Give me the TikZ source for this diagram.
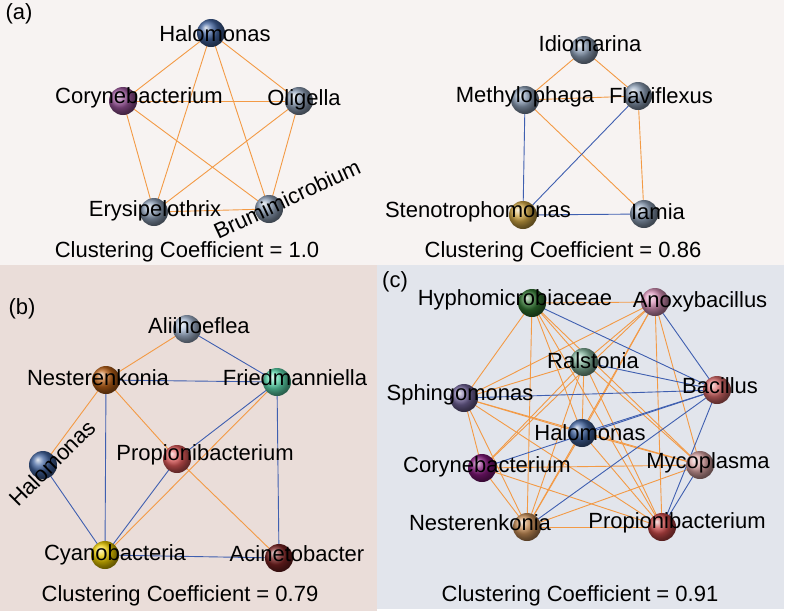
\documentclass[tikz,border=0pt]{standalone}
\usepackage{fontspec}
\setmainfont{Liberation Sans}
\definecolor{bgtop}{HTML}{F7F3F2}
\definecolor{bgb}{HTML}{EADDD9}
\definecolor{bgc}{HTML}{E2E5EC}
\definecolor{eor}{HTML}{F39A45}
\definecolor{ebl}{HTML}{3F5FB0}
\definecolor{cgrey}{HTML}{8EA0B8}
\definecolor{cblue}{HTML}{42649F}
\definecolor{cpurple}{HTML}{9A549A}
\definecolor{cgold}{HTML}{D2A845}
\definecolor{csteel}{HTML}{A8BAD4}
\definecolor{cbrown}{HTML}{BC6218}
\definecolor{caqua}{HTML}{5EDCB0}
\definecolor{cred}{HTML}{E05A5A}
\definecolor{cyellow}{HTML}{ECCC00}
\definecolor{cdred}{HTML}{7A2222}
\definecolor{cgreen}{HTML}{307430}
\definecolor{cpink}{HTML}{DA94BA}
\definecolor{csage}{HTML}{82B49C}
\definecolor{csalmon}{HTML}{DA6A6A}
\definecolor{cviolet}{HTML}{72649A}
\definecolor{cmag}{HTML}{82167A}
\definecolor{crose}{HTML}{DAA4A4}
\definecolor{ctan}{HTML}{CC925A}
\definecolor{cpr}{HTML}{CC4A4A}
\tikzset{
  ball/.style={circle, minimum size=28pt, inner sep=0pt, ball color=#1},
  lbl/.style={font=\fontsize{22}{22}\selectfont, inner sep=0pt, text=black},
  cc/.style={font=\fontsize{22}{22}\selectfont, inner sep=0pt, text=black},
  oe/.style={draw=eor, line width=0.9pt},
  be/.style={draw=ebl, line width=0.9pt},
}
\begin{document}
\begin{tikzpicture}[x=1pt, y=-1pt]
\useasboundingbox (0,0) rectangle (787,611);
\fill[white] (0,0) rectangle (787,611);
\fill[bgtop] (0,0) rectangle (784,265);
\fill[bgb] (0,265) rectangle (377,611);
\fill[bgc] (377,265) rectangle (784,609);

% ---------- panel (a) left ----------
\coordinate (aHa) at (211,33);
\coordinate (aCo) at (123,101);
\coordinate (aOl) at (299,101);
\coordinate (aEr) at (154,212);
\coordinate (aBr) at (269,209);
\foreach \u/\v in {aHa/aCo,aHa/aOl,aHa/aEr,aHa/aBr,aCo/aOl,aCo/aEr,aCo/aBr,aOl/aEr,aOl/aBr,aEr/aBr}
  \draw[oe] (\u) -- (\v);
\node[ball=cblue] (naHa) at (aHa) {};
\node[ball=cpurple] (naCo) at (aCo) {};
\node[ball=cgrey] (naOl) at (aOl) {};
\node[ball=cgrey] (naEr) at (aEr) {};
\node[ball=cgrey] (naBr) at (aBr) {};
\node[lbl] (laHa) at (215,34) {Halomonas};
\node[lbl] (laCo) at (139,98) {Corynebacterium};
\node[lbl] (laOl) at (304,100) {Oligella};
\node[lbl] (laEr) at (155,211) {Erysipelothrix};
\node[lbl, rotate=25] (laBr) at (287,199) {Brumimicrobium};
\node[lbl] (ta) at (19,14) {(a)};
\node[cc] (cca) at (187,252) {Clustering Coefficient = 1.0};

% ---------- panel (a) right ----------
\coordinate (rId) at (584,50);
\coordinate (rMe) at (525,100);
\coordinate (rFl) at (638,96);
\coordinate (rSt) at (523,215);
\coordinate (rIa) at (644,214);
\foreach \u/\v in {rId/rMe,rId/rFl,rMe/rFl,rMe/rIa,rFl/rIa}
  \draw[oe] (\u) -- (\v);
\foreach \u/\v in {rMe/rSt,rFl/rSt,rSt/rIa}
  \draw[be] (\u) -- (\v);
\node[ball=cgrey] (nrId) at (rId) {};
\node[ball=cgrey] (nrMe) at (rMe) {};
\node[ball=cgrey] (nrFl) at (rFl) {};
\node[ball=cgold] (nrSt) at (rSt) {};
\node[ball=cgrey] (nrIa) at (rIa) {};
\node[lbl] (lrId) at (590,44) {Idiomarina};
\node[lbl] (lrMe) at (525,97) {Methylophaga};
\node[lbl] (lrFl) at (661,96) {Flaviflexus};
\node[lbl] (lrSt) at (478,212) {Stenotrophomonas};
\node[lbl] (lrIa) at (658,212) {Iamia};
\node[cc] (ccr) at (563,252) {Clustering Coefficient = 0.86};

% ---------- panel (b) ----------
\coordinate (bAl) at (187,329);
\coordinate (bNe) at (106,380);
\coordinate (bFr) at (277,382);
\coordinate (bHa) at (43,465);
\coordinate (bPr) at (177,459);
\coordinate (bCy) at (105,555);
\coordinate (bAc) at (279,558);
\foreach \u/\v in {bAl/bNe,bNe/bHa,bNe/bPr,bFr/bCy,bPr/bAc}
  \draw[oe] (\u) -- (\v);
\foreach \u/\v in {bAl/bFr,bNe/bFr,bNe/bCy,bFr/bPr,bFr/bAc,bHa/bCy,bPr/bCy,bCy/bAc}
  \draw[be] (\u) -- (\v);
\node[ball=csteel] (nbAl) at (bAl) {};
\node[ball=cbrown] (nbNe) at (bNe) {};
\node[ball=caqua] (nbFr) at (bFr) {};
\node[ball=cblue] (nbHa) at (bHa) {};
\node[ball=cred] (nbPr) at (bPr) {};
\node[ball=cyellow] (nbCy) at (bCy) {};
\node[ball=cdred] (nbAc) at (bAc) {};
\node[lbl] (lbAl) at (199,326) {Aliihoeflea};
\node[lbl] (lbNe) at (98,378) {Nesterenkonia};
\node[lbl] (lbFr) at (295,378) {Friedmanniella};
\node[lbl, rotate=45] (lbHa) at (52,463) {Halomonas};
\node[lbl] (lbPr) at (205,455) {Propionibacterium};
\node[lbl] (lbCy) at (115,555) {Cyanobacteria};
\node[lbl] (lbAc) at (297,554) {Acinetobacter};
\node[lbl] (tb) at (22,309) {(b)};
\node[cc] (ccb) at (180,596) {Clustering Coefficient = 0.79};

% ---------- panel (c) ----------
\coordinate (cHy) at (532,303);
\coordinate (cAn) at (655,302);
\coordinate (cRa) at (584,362);
\coordinate (cBa) at (717,390);
\coordinate (cSp) at (464,398);
\coordinate (cHa) at (582,433);
\coordinate (cCo) at (482,468);
\coordinate (cMy) at (700,465);
\coordinate (cNe) at (527,527);
\coordinate (cPr) at (662,527);
\foreach \u/\v in {cHy/cSp,cHy/cNe,cHy/cRa,cHy/cHa,cHy/cPr,cHy/cMy,
  cAn/cSp,cAn/cCo,cAn/cRa,cAn/cHa,cAn/cNe,cAn/cPr,cAn/cMy,cAn/cHy,
  cRa/cSp,cRa/cCo,cRa/cNe,cRa/cHa,cRa/cPr,cRa/cMy,
  cSp/cHa,cSp/cCo,cSp/cNe,cSp/cMy,cSp/cPr,
  cHa/cNe,cHa/cPr,cHa/cMy,
  cCo/cNe,cCo/cMy,cCo/cPr,
  cNe/cPr,cNe/cMy}
  \draw[oe] (\u) -- (\v);
\foreach \u/\v in {cHy/cBa,cAn/cBa,cRa/cBa,cSp/cBa,cHa/cBa,cCo/cBa,cNe/cBa,cBa/cPr,cMy/cPr}
  \draw[be] (\u) -- (\v);
\node[ball=cgreen] (ncHy) at (cHy) {};
\node[ball=cpink] (ncAn) at (cAn) {};
\node[ball=csage] (ncRa) at (cRa) {};
\node[ball=csalmon] (ncBa) at (cBa) {};
\node[ball=cviolet] (ncSp) at (cSp) {};
\node[ball=cblue] (ncHa) at (cHa) {};
\node[ball=cmag] (ncCo) at (cCo) {};
\node[ball=crose] (ncMy) at (cMy) {};
\node[ball=ctan] (ncNe) at (cNe) {};
\node[ball=cpr] (ncPr) at (cPr) {};
\node[lbl] (lcHy) at (515,300) {Hyphomicrobiaceae};
\node[lbl] (lcAn) at (700,302) {Anoxybacillus};
\node[lbl] (lcRa) at (593,361) {Ralstonia};
\node[lbl] (lcBa) at (720,386) {Bacillus};
\node[lbl] (lcSp) at (460,395) {Sphingomonas};
\node[lbl] (lcHa) at (590,433) {Halomonas};
\node[lbl] (lcCo) at (487,467) {Corynebacterium};
\node[lbl] (lcMy) at (708,463) {Mycoplasma};
\node[lbl] (lcNe) at (480,523) {Nesterenkonia};
\node[lbl] (lcPr) at (677,523) {Propionibacterium};
\node[lbl] (tc) at (395,282) {(c)};
\node[cc] (ccc) at (580,596) {Clustering Coefficient = 0.91};
\end{tikzpicture}
\end{document}
